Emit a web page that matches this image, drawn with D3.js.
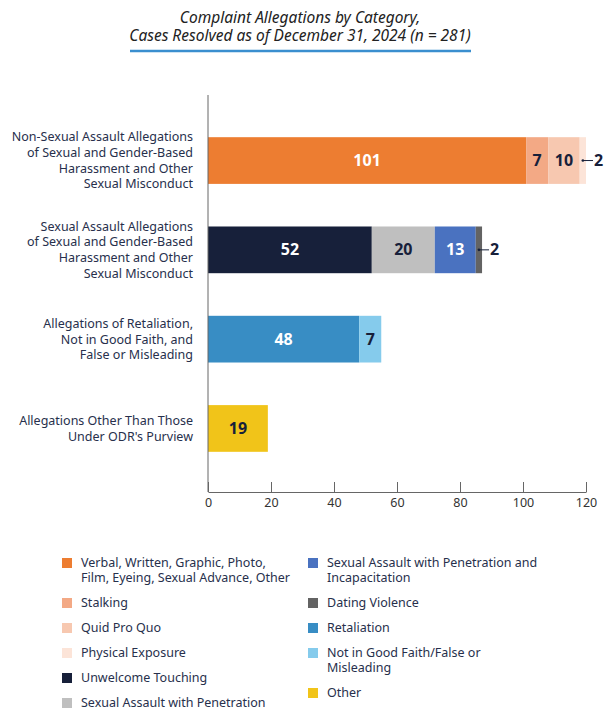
<!DOCTYPE html>
<html>
<head>
<meta charset="utf-8">
<script src="https://cdn.jsdelivr.net/npm/d3@7"></script>
<style>
  body { margin: 0; background: #fff; }
  text { font-family: "Noto Sans", sans-serif; }
</style>
</head>
<body>
<script>
const categories = [
  "Non-Sexual Assault Allegations|of Sexual and Gender-Based|Harassment and Other|Sexual Misconduct",
  "Sexual Assault Allegations|of Sexual and Gender-Based|Harassment and Other|Sexual Misconduct",
  "Allegations of Retaliation,|Not in Good Faith, and|False or Misleading",
  "Allegations Other Than Those|Under ODR's Purview"
];

const seriesNames = [
  "Verbal, Written, Graphic, Photo,|Film, Eyeing, Sexual Advance, Other",
  "Stalking",
  "Quid Pro Quo",
  "Physical Exposure",
  "Unwelcome Touching",
  "Sexual Assault with Penetration",
  "Sexual Assault with Penetration and|Incapacitation",
  "Dating Violence",
  "Retaliation",
  "Not in Good Faith/False or|Misleading",
  "Other"
];

const seriesColors = [
  "#ed7d31", "#f3a985", "#f7c8b0", "#fce4d8",
  "#17203a", "#bfbfbf", "#4a72c0", "#636363",
  "#388dc4", "#85cbec", "#f1c419"
];

// which series sit in each bar, and their counts
const rowSeries = [[0, 1, 2, 3], [4, 5, 6, 7], [8, 9], [10]];
const rowValues = [[101, 7, 10, 2], [52, 20, 13, 2], [48, 7], [19]];

const xTicks = [0, 20, 40, 60, 80, 100, 120];

const titleLines = [
  "Complaint Allegations by Category,",
  "Cases Resolved as of December 31, 2024 (n = 281)"
];

const width = 611, height = 720;
const textColor = "#27304c";
const darkSeries = [0, 4, 6, 8];

const svg = d3.select("body").append("svg")
  .attr("width", width)
  .attr("height", height);

// title
svg.append("g").selectAll("text")
  .data(titleLines)
  .enter().append("text")
  .attr("x", 300)
  .attr("y", (d, i) => 23 + i * 18)
  .attr("text-anchor", "middle")
  .attr("font-size", 15.5)
  .attr("font-style", "italic")
  .attr("fill", "#222")
  .text(d => d);

svg.append("line")
  .attr("x1", 130).attr("x2", 471)
  .attr("y1", 51).attr("y2", 51)
  .attr("stroke", "#3a8fcf")
  .attr("stroke-width", 2.5);

const xScale = d3.scaleLinear()
  .domain([0, 120])
  .range([208, 586]);

const yScale = d3.scaleBand()
  .domain(categories)
  .range([97, 492])
  .paddingInner(0.477)
  .paddingOuter(0.45);

// segments
const segments = [];
rowValues.forEach((vals, r) => {
  let x0 = 0;
  vals.forEach((v, j) => {
    segments.push({ cat: categories[r], s: rowSeries[r][j], x0: x0, x1: x0 + v, v: v });
    x0 += v;
  });
});

svg.append("g").selectAll("rect")
  .data(segments)
  .enter().append("rect")
  .attr("x", d => xScale(d.x0))
  .attr("y", d => yScale(d.cat))
  .attr("width", d => xScale(d.x1) - xScale(d.x0))
  .attr("height", yScale.bandwidth())
  .attr("fill", d => seriesColors[d.s]);

// value labels
const inside = segments.filter(d => d.v > 2);
svg.append("g").selectAll("text")
  .data(inside)
  .enter().append("text")
  .attr("x", d => xScale((d.x0 + d.x1) / 2))
  .attr("y", d => yScale(d.cat) + yScale.bandwidth() / 2)
  .attr("dy", "0.35em")
  .attr("text-anchor", "middle")
  .attr("font-size", 16)
  .attr("font-weight", "bold")
  .attr("fill", d => darkSeries.includes(d.s) ? "#fff" : "#17203a")
  .text(d => d.v);

const outside = segments.filter(d => d.v <= 2);
const callouts = svg.append("g").selectAll("g")
  .data(outside)
  .enter().append("g");

callouts.append("circle")
  .attr("cx", d => xScale((d.x0 + d.x1) / 2))
  .attr("cy", d => yScale(d.cat) + yScale.bandwidth() / 2)
  .attr("r", 1.3)
  .attr("fill", "#17203a");

callouts.append("line")
  .attr("x1", d => xScale((d.x0 + d.x1) / 2))
  .attr("x2", d => xScale(d.x1) + 7)
  .attr("y1", d => yScale(d.cat) + yScale.bandwidth() / 2)
  .attr("y2", d => yScale(d.cat) + yScale.bandwidth() / 2)
  .attr("stroke", "#17203a")
  .attr("stroke-width", 1);

callouts.append("text")
  .attr("x", d => xScale(d.x1) + 8)
  .attr("y", d => yScale(d.cat) + yScale.bandwidth() / 2)
  .attr("dy", "0.35em")
  .attr("font-size", 16)
  .attr("font-weight", "bold")
  .attr("fill", "#17203a")
  .text(d => d.v);

// x axis
const xAxis = d3.axisBottom(xScale)
  .tickValues(xTicks)
  .tickSizeInner(-10)
  .tickSizeOuter(0)
  .tickPadding(6);

const xg = svg.append("g")
  .attr("transform", "translate(0, 492)")
  .call(xAxis);
xg.selectAll("path, line").attr("stroke", "#666");
xg.selectAll("text")
  .attr("font-size", 12.5)
  .attr("fill", "#333")
  .attr("font-family", "Noto Sans, sans-serif");

// y axis line
svg.append("line")
  .attr("x1", 208).attr("x2", 208)
  .attr("y1", 95).attr("y2", 492)
  .attr("stroke", "#666");

// category labels
const catLabels = svg.append("g").selectAll("text")
  .data(categories)
  .enter().append("text")
  .attr("text-anchor", "end")
  .attr("font-size", 12.5)
  .attr("fill", textColor);

catLabels.each(function(d) {
  const lines = d.split("|");
  const cy = yScale(d) + yScale.bandwidth() / 2;
  const lh = 15.7;
  d3.select(this).selectAll("tspan")
    .data(lines)
    .enter().append("tspan")
    .attr("x", 193)
    .attr("y", (l, i) => cy + (i - (lines.length - 1) / 2) * lh)
    .attr("dy", "0.35em")
    .text(l => l);
});

// legend
const legendCols = [[0, 1, 2, 3, 4, 5], [6, 7, 8, 9, 10]];
const colX = [62, 308];

legendCols.forEach((col, c) => {
  let y = 563;
  col.forEach(s => {
    const lines = seriesNames[s].split("|");
    const g = svg.append("g");
    g.append("rect")
      .attr("x", colX[c])
      .attr("y", y - 5)
      .attr("width", 10)
      .attr("height", 10)
      .attr("fill", seriesColors[s]);
    g.append("text")
      .attr("font-size", 12.5)
      .attr("fill", textColor)
      .selectAll("tspan")
      .data(lines)
      .enter().append("tspan")
      .attr("x", colX[c] + 19)
      .attr("y", (l, i) => y + i * 15)
      .attr("dy", "0.35em")
      .text(l => l);
    y += 25 + 15 * (lines.length - 1);
  });
});
</script>
</body>
</html>
